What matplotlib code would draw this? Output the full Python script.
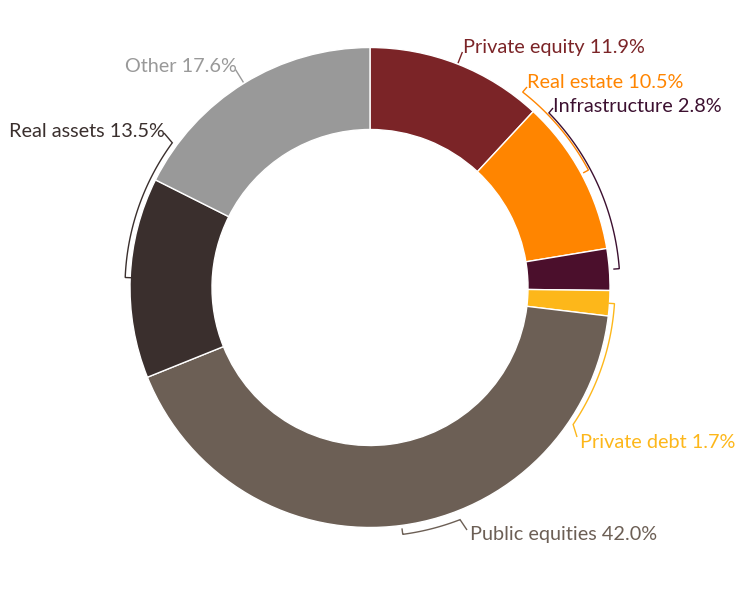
import numpy as np
import matplotlib
matplotlib.use("Agg")
import matplotlib.pyplot as plt

# ---- data ----
categories = ["Private equity", "Real estate", "Infrastructure", "Private debt",
              "Public equities", "Real assets", "Other"]
values = [11.9, 10.5, 2.8, 1.7, 42.0, 13.5, 17.6]
labels = ["Private equity 11.9%", "Real estate 10.5%", "Infrastructure 2.8%",
          "Private debt 1.7%", "Public equities 42.0%", "Real assets 13.5%", "Other 17.6%"]

# ---- styling ----
wedge_colors = ["#7B2427", "#FF8500", "#4B0F2C", "#FDB71A", "#6C5F55", "#3A2F2D", "#999999"]
label_colors = ["#7B2427", "#FF8500", "#3C1030", "#FDB71A", "#6C5F55", "#3A2F2D", "#999999"]

W, H = 756, 595
cx, cy = 370, H - 287.5
R = 240
ring = 82

fig = plt.figure(figsize=(W / 100, H / 100), dpi=100)
ax = fig.add_axes([0, 0, 1, 1])
ax.pie(values, radius=R, center=(cx, cy), startangle=90, counterclock=False,
       colors=wedge_colors,
       wedgeprops=dict(width=ring, edgecolor="white", linewidth=1.0))
ax.set_xlim(0, W)
ax.set_ylim(0, H)
ax.set_aspect("equal")
ax.axis("off")

# mid angles of each wedge (degrees, standard orientation)
cum = np.cumsum([0] + values)
total = cum[-1]
mids = [90 - (cum[i] + values[i] / 2) / total * 360 for i in range(len(values))]


def pol(a, r):
    t = np.deg2rad(a)
    return cx + r * np.cos(t), cy + r * np.sin(t)


def py(ypix):
    return H - ypix


# leader styles: (kind, arc radius, arc end angle, text pos px, ha)
leaders = [
    ("radial", 253, None, (463, 53), "left"),
    ("arc", 248, 52.0, (527, 88), "left"),
    ("arc", 250, 44.3, (553, 112), "left"),
    ("arc", 245, -34.0, (580, 448), "left"),
    ("arc", 249, -68.8, (470, 540), "left"),
    ("arc", 245, 143.8, (165, 137), "right"),
    ("radial", 256, None, (237, 72), "right"),
]
text_join = [None, (527, 87), (553, 108), (577, 437), (467, 530), (164, 133), None]

lw = 1.0
for i, (kind, rr, aend, tpos, ha) in enumerate(leaders):
    col = label_colors[i]
    m = mids[i]
    if kind == "radial":
        x0, y0 = pol(m, R + 1)
        x1, y1 = pol(m, rr)
        ax.plot([x0, x1], [y0, y1], color=col, lw=lw, solid_capstyle="butt")
    else:
        d = (aend - m + 180) % 360 - 180
        hx, hy = pol(m, rr - 6)
        angs = np.linspace(m, m + d, 80)
        xs = [hx] + [pol(a, rr)[0] for a in angs]
        ys = [hy] + [pol(a, rr)[1] for a in angs]
        jx, jy = text_join[i]
        xs.append(jx)
        ys.append(py(jy))
        ax.plot(xs, ys, color=col, lw=lw, solid_joinstyle="miter", solid_capstyle="butt")
    ax.text(tpos[0], py(tpos[1]), labels[i], color=col, ha=ha, va="baseline",
            fontsize=14.3, family="Lato")

fig.savefig("out.png", dpi=100)
